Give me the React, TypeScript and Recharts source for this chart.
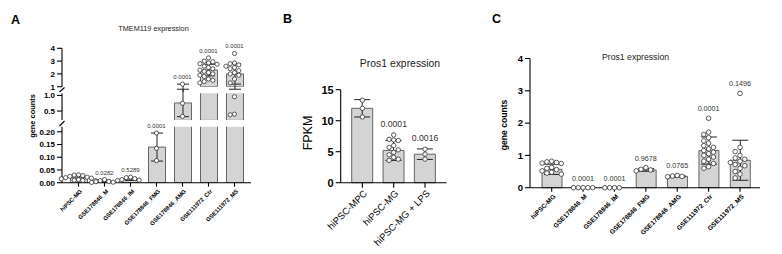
import React from "react";
import { ComposedChart, Bar, Cell, ErrorBar, Scatter, XAxis, YAxis } from "recharts";

const FONT = "'Liberation Sans', Arial, Helvetica, sans-serif";

// ---------- A: TMEM119 expression (broken y axis) ----------
const aCats = [
  "hiPSC-MG",
  "GSE178846_M",
  "GSE178846_IM",
  "GSE178846_FMG",
  "GSE178846_AMG",
  "GSE111972_Ctr",
  "GSE111972_MS",
];
const aMeans = [0.02, 0.006, 0.014, 0.14, 0.76, 2.3, 2.0];
const aSd = [0.007, 0.004, 0.005, 0.055, 0.44, 0.45, 0.8];
const aDots = [
  [0.031, 0.03, 0.028, 0.025, 0.022, 0.02, 0.018, 0.015, 0.012, 0.01, 0.009, 0.008],
  [0.012, 0.008, 0.005, 0.004, 0.002, 0.001],
  [0.022, 0.02, 0.016, 0.012, 0.01, 0.009],
  [0.195, 0.135, 0.087],
  [1.2, 0.75, 0.33],
  [3.25, 3.0, 2.95, 2.85, 2.8, 2.75, 2.6, 2.5, 2.4, 2.3, 2.2, 2.1, 2.0, 1.9, 1.8, 1.6, 1.5, 1.4, 1.3],
  [3.6, 2.85, 2.8, 2.7, 2.6, 2.5, 2.4, 2.25, 2.1, 2.0, 1.9, 1.6, 1.3, 0.96, 0.4, 0.38],
];
const aP = ["", "0.0282", "0.5289", "0.0001", "0.0001", "0.0001", "0.0001"];

// ---------- B: Pros1 expression, FPKM ----------
const bCats = ["hiPSC-MPC", "hiPSC-MG", "hiPSC-MG + LPS"];
const bMeans = [12.0, 5.2, 4.6];
const bSd = [1.4, 1.6, 0.85];
const bDots = [
  [13.3, 12.0, 10.6],
  [7.7, 7.0, 6.9, 6.8, 6.0, 5.7, 5.3, 4.9, 4.5, 4.1, 3.8, 3.6],
  [5.4, 4.6, 3.8],
];
const bP = ["", "0.0001", "0.0016"];

// ---------- C: Pros1 expression, gene counts ----------
const cCats = aCats;
const cMeans = [0.57, 0, 0, 0.55, 0.35, 1.15, 0.85];
const cSd = [0.16, 0, 0, 0.04, 0.02, 0.42, 0.62];
const cDots = [
  [0.82, 0.8, 0.78, 0.76, 0.75, 0.63, 0.6, 0.56, 0.52, 0.48, 0.45, 0.42],
  [0, 0, 0, 0, 0],
  [0, 0, 0, 0],
  [0.62, 0.57, 0.55, 0.52],
  [0.38, 0.36, 0.35, 0.34],
  [2.15, 1.72, 1.65, 1.55, 1.45, 1.38, 1.3, 1.25, 1.2, 1.15, 1.1, 1.05, 1.0, 0.95, 0.88, 0.82, 0.75, 0.65, 0.6],
  [2.92, 1.25, 1.12, 1.0, 0.92, 0.88, 0.82, 0.78, 0.72, 0.68, 0.6, 0.5, 0.42, 0.3],
];
const cP = ["", "0.0001", "0.0001", "0.9678", "0.0765", "0.0001", "0.1496"];

// side-by-side placement of dots that would overlap (slot index, not random)
function spread(vals: number[], toPx: (v: number) => number, gap: number) {
  const placed: { py: number; s: number }[] = [];
  const order = [0, -1, 1, -2, 2, -3, 3, -4, 4, -5, 5];
  return vals.map((v) => {
    const py = toPx(v);
    const near = placed.filter((p) => Math.abs(p.py - py) < gap);
    const s = order.find((o) => !near.some((p) => p.s === o)) ?? 0;
    placed.push({ py, s });
    return s;
  });
}

const barRows = (means: number[], sd: number[]) => means.map((m, i) => ({ x: i, mean: m, sd: sd[i] }));
const dotRows = (dots: number[][], toPx: (v: number) => number, gap: number) =>
  dots.flatMap((g, i) => {
    const s = spread(g, toPx, gap);
    return g.map((v, k) => ({ x: i, v, s: s[k] }));
  });
const pRows = (p: string[], means: number[], sd: number[], dots: number[][]) =>
  p
    .map((t, i) => ({ x: i, v: Math.max(means[i] + sd[i], ...dots[i]), t }))
    .filter((r) => r.t);

const dotShape = (r: number, step: number) => (p: any) =>
  <circle cx={p.cx + p.payload.s * step} cy={p.cy} r={r} fill="#fff" stroke="#333" strokeWidth={0.8} />;

const pShape = (fs: number, lift: number) => (p: any) =>
  (
    <text x={p.cx} y={p.cy - lift} textAnchor="middle" fontSize={fs} fill="#333" fontFamily={FONT}>
      {p.payload.t}
    </text>
  );

const slantTick = (names: string[], fs: number, weight: number) => (p: any) => {
  const px = p.x + 2;
  const py = p.y + 1;
  return (
    <text x={px} y={py} dy="0.5em" textAnchor="end" transform={`rotate(-45 ${px} ${py})`} fontSize={fs}
      fontWeight={weight} fill="#000" fontFamily={FONT}>
      {names[p.payload.value]}
    </text>
  );
};

// rough pixel position on A's broken axis, used only for dot spreading
const segOf = (v: number) => (v <= 0.2 ? 0 : v < 1 ? 1 : 2);
const pxA = (v: number) => {
  const s = segOf(v);
  if (s === 0) return (v / 0.22) * 56;
  if (s === 1) return 62 + ((v - 0.2) / 0.87) * 27;
  return 96 + ((v - 1) / 3) * 38.4;
};

const aBars = barRows(aMeans, aSd);
const aDotRows = dotRows(aDots, pxA, 4.4);
const aPRows = pRows(aP, aMeans, aSd, aDots);

const aSlices = [
  { seg: 2, domain: [1, 4], ticks: [1, 2, 3, 4], fmt: (v: number) => String(v), top: 30, height: 62, mTop: 18.3, mBottom: 5.3, axis: false },
  { seg: 1, domain: [0.2, 1.07], ticks: [0.5, 1.0], fmt: (v: number) => v.toFixed(1), top: 85, height: 35.4, mTop: 8.3, mBottom: 0, axis: false },
  { seg: 0, domain: [0, 0.22], ticks: [0, 0.05, 0.1, 0.15, 0.2], fmt: (v: number) => v.toFixed(2), top: 117, height: 137, mTop: 9.7, mBottom: 0, axis: true },
];

const axisStroke = { stroke: "#000", strokeWidth: 1.1 };

function SliceA({ s }: { s: (typeof aSlices)[number] }) {
  const dots = aDotRows.filter((d) => segOf(d.v) === s.seg);
  const labels = aPRows.filter((d) => segOf(d.v) === s.seg);
  return (
    <ComposedChart width={235} height={s.height} data={aBars} margin={{ top: s.mTop, right: 4, bottom: s.mBottom, left: 0 }}>
      <XAxis type="number" dataKey="x" domain={[-0.5, 6.5]} ticks={[0, 1, 2, 3, 4, 5, 6]} interval={0}
        padding={{ left: 3.5, right: 3.5 }} hide={!s.axis} height={71.3} tickSize={4}
        axisLine={axisStroke} tickLine={axisStroke} tick={slantTick(aCats, 5.8, 700)} />
      <YAxis domain={s.domain} ticks={s.ticks} allowDataOverflow width={42} tickSize={5} interval={0}
        tickFormatter={s.fmt} axisLine={axisStroke} tickLine={axisStroke}
        tick={{ fontSize: 8, fontWeight: 700, fill: "#000", fontFamily: FONT }} />
      <YAxis yAxisId="free" domain={s.domain} hide />
      <Bar dataKey="mean" barSize={17} isAnimationActive={false}>
        {aBars.map((r) => {
          const shown = r.mean > s.domain[0];
          return <Cell key={r.x} fill={shown ? "#d4d4d4" : "none"} stroke={shown ? "#444" : "none"} strokeWidth={0.8} />;
        })}
        <ErrorBar dataKey="sd" width={6} stroke="#222" strokeWidth={1} direction="y" />
      </Bar>
      {dots.length > 0 && (
        <Scatter yAxisId="free" data={dots} dataKey="v" shape={dotShape(2.1, 4.3)} isAnimationActive={false} />
      )}
      {labels.length > 0 && (
        <Scatter yAxisId="free" data={labels} dataKey="v" shape={pShape(6, 5)} isAnimationActive={false} />
      )}
    </ComposedChart>
  );
}

function PanelB() {
  return (
    <ComposedChart width={152} height={194} data={barRows(bMeans, bSd)} margin={{ top: 29.7, right: 5.3, bottom: 0, left: 0 }}>
      <XAxis type="number" dataKey="x" domain={[-0.5, 2.5]} ticks={[0, 1, 2]} interval={0}
        padding={{ left: 6, right: 6 }} height={71.3} tickSize={5}
        axisLine={axisStroke} tickLine={axisStroke} tick={slantTick(bCats, 9.5, 400)} />
      <YAxis domain={[0, 15]} ticks={[0, 5, 10, 15]} width={40.7} tickSize={5} interval={0}
        axisLine={axisStroke} tickLine={axisStroke}
        tick={{ fontSize: 11, fontWeight: 700, fill: "#000", fontFamily: FONT }} />
      <Bar dataKey="mean" barSize={21} fill="#d4d4d4" stroke="#444" strokeWidth={0.8} isAnimationActive={false}>
        <ErrorBar dataKey="sd" width={8} stroke="#222" strokeWidth={1} direction="y" />
      </Bar>
      <Scatter data={dotRows(bDots, (v) => v * 6.2, 4.6)} dataKey="v" shape={dotShape(2.2, 4.6)} isAnimationActive={false} />
      <Scatter data={pRows(bP, bMeans, bSd, bDots)} dataKey="v" shape={pShape(8.7, 8)} isAnimationActive={false} />
    </ComposedChart>
  );
}

function PanelC() {
  return (
    <ComposedChart width={272} height={214} data={barRows(cMeans, cSd)} margin={{ top: 18.5, right: 2, bottom: 0, left: 0 }}>
      <XAxis type="number" dataKey="x" domain={[-0.5, 6.5]} ticks={[0, 1, 2, 3, 4, 5, 6]} interval={0}
        padding={{ left: 6, right: 4.3 }} height={66.3} tickSize={4}
        axisLine={axisStroke} tickLine={axisStroke} tick={slantTick(cCats, 6.5, 700)} />
      <YAxis domain={[0, 4]} ticks={[0, 1, 2, 3, 4]} width={40} tickSize={5} interval={0}
        axisLine={axisStroke} tickLine={axisStroke}
        tick={{ fontSize: 9.5, fontWeight: 700, fill: "#000", fontFamily: FONT }} />
      <Bar dataKey="mean" barSize={20} fill="#d4d4d4" stroke="#444" strokeWidth={0.8} isAnimationActive={false}>
        <ErrorBar dataKey="sd" width={8} stroke="#222" strokeWidth={1} direction="y" />
      </Bar>
      <Scatter data={dotRows(cDots, (v) => v * 32.2, 4.8)} dataKey="v" shape={dotShape(2.3, 4.8)} isAnimationActive={false} />
      <Scatter data={pRows(cP, cMeans, cSd, cDots)} dataKey="v" shape={pShape(7.2, 7)} isAnimationActive={false} />
    </ComposedChart>
  );
}

export default function App() {
  return (
    <div style={{ position: "absolute", left: 0, top: 0, width: 782, height: 254, background: "#fff", fontFamily: FONT }}>
      {aSlices.map((s) => (
        <div key={s.seg} style={{ position: "absolute", left: 20, top: s.top }}>
          <SliceA s={s} />
        </div>
      ))}
      <div style={{ position: "absolute", left: 300, top: 60 }}>
        <PanelB />
      </div>
      <div style={{ position: "absolute", left: 490, top: 40 }}>
        <PanelC />
      </div>
      <svg width={782} height={254} style={{ position: "absolute", left: 0, top: 0, pointerEvents: "none" }} fontFamily={FONT}>
        <text x={11} y={24} fontSize={12.5} fontWeight={700}>A</text>
        <text x={283} y={23} fontSize={12.5} fontWeight={700}>B</text>
        <text x={492} y={23} fontSize={12.5} fontWeight={700}>C</text>
        <text x={153.5} y={31} fontSize={7.3} textAnchor="middle" fill="#222">TMEM119 expression</text>
        <text x={400} y={67} fontSize={10.4} textAnchor="middle" fill="#222">Pros1 expression</text>
        <text x={635.5} y={59.5} fontSize={8.7} textAnchor="middle" fill="#222">Pros1 expression</text>
        <text transform="translate(35 116) rotate(-90)" fontSize={7.4} fontWeight={700} textAnchor="middle">gene counts</text>
        <text transform="translate(312 133) rotate(-90)" fontSize={12.5} textAnchor="middle">FPKM</text>
        <text transform="translate(507 125) rotate(-90)" fontSize={8.6} fontWeight={700} textAnchor="middle">gene counts</text>
        {/* axis break marks */}
        <line x1={59.5} y1={92} x2={64.5} y2={87.5} stroke="#000" strokeWidth={1.1} />
        <line x1={59.5} y1={126} x2={64.5} y2={121} stroke="#000" strokeWidth={1.1} />
      </svg>
    </div>
  );
}
